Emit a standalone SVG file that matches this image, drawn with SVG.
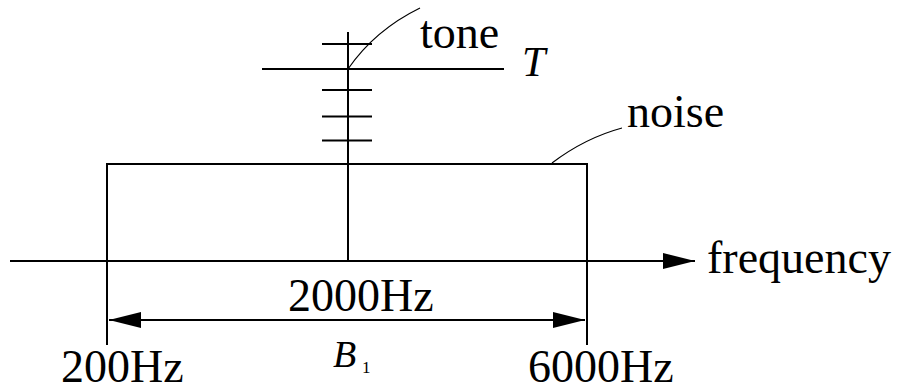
<svg xmlns="http://www.w3.org/2000/svg" width="902" height="391" viewBox="0 0 902 391">
<style>
.l{stroke:#000;stroke-width:2;fill:none}
.th{stroke:#000;stroke-width:1.2;fill:none}
.t{font-family:"Liberation Serif",serif;font-size:46px;fill:#000}
.i{font-style:italic}
</style>
<defs>
<marker id="ah" markerWidth="32" markerHeight="16" refX="32" refY="8" orient="auto-start-reverse" markerUnits="userSpaceOnUse">
<path d="M0,0 L32,8 L0,16 Z" fill="#000"/>
</marker>
</defs>
<g id="axis">
<line class="l" x1="10" y1="261" x2="695" y2="261" marker-end="url(#ah)"/>
<text class="t" x="707" y="273">frequency</text>
</g>
<g id="noise">
<polyline class="l" points="107,345 107,164 587,164 587,345"/>
<text class="t" x="627" y="127">noise</text>
</g>
<g id="tone">
<line class="l" x1="348" y1="32" x2="348" y2="261"/>
<line class="l" x1="262" y1="69" x2="504" y2="69"/>
<line class="l" x1="322" y1="44" x2="372" y2="44"/>
<line class="l" x1="322" y1="90" x2="372" y2="90"/>
<line class="l" x1="322" y1="116.5" x2="372" y2="116.5"/>
<line class="l" x1="322" y1="140.5" x2="372" y2="140.5"/>
<text class="t" x="420" y="48">tone</text>
<text class="t i" x="522" y="76" style="font-size:42px">T</text>
</g>
<g id="connectors">
<path class="th" d="M348,69 Q375,30 420,8"/>
<path class="th" d="M552,163 Q585,138 622,128"/>
<line class="l" x1="109" y1="320" x2="585" y2="320" marker-start="url(#ah)" marker-end="url(#ah)"/>
</g>
<g id="labels">
<text class="t" x="288" y="311">2000Hz</text>
<text class="t" x="61" y="382">200Hz</text>
<text class="t" x="528" y="382">6000Hz</text>
<text class="t i" x="333" y="367" style="font-size:38px">B</text>
<text class="t" x="362" y="373" style="font-size:17px">1</text>
</g>
</svg>
